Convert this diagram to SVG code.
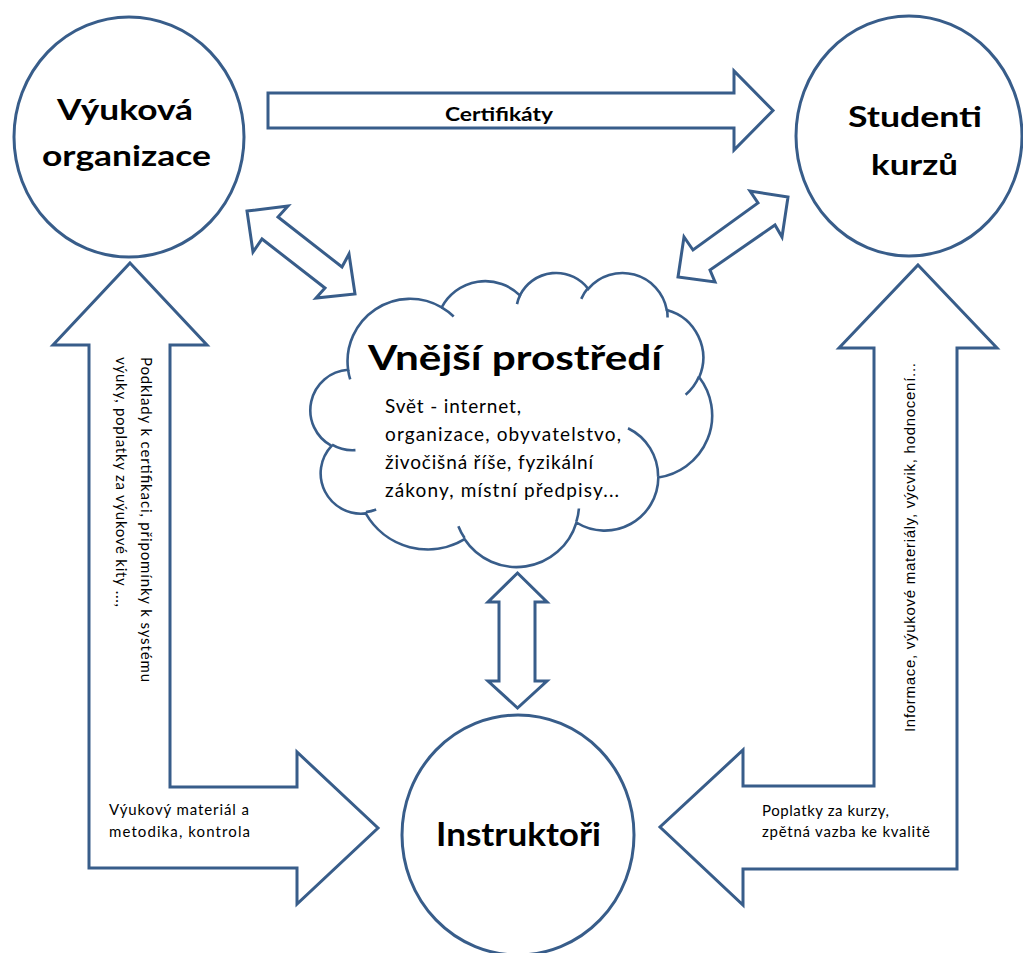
<svg xmlns="http://www.w3.org/2000/svg" width="1023" height="953" viewBox="0 0 1023 953">
  <style>
    .ln { fill: #ffffff; stroke: #385D8A; stroke-width: 3; stroke-linejoin: miter; }
    .cl { fill: #ffffff; stroke: #385D8A; stroke-width: 2.6; vector-effect: non-scaling-stroke; }
    .cli { fill: none; stroke: #385D8A; stroke-width: 2.6; vector-effect: non-scaling-stroke; }
    .title { font-family: Lato, "Open Sans", sans-serif; font-weight: bold; fill: #000000; text-anchor: middle; }
    .body { font-family: Lato, "Open Sans", sans-serif; fill: #000000; }
    .arial { font-family: "Liberation Sans", Arial, sans-serif; fill: #000000; }
  </style>
  <rect x="0" y="0" width="1023" height="953" fill="#ffffff"/>

  <g id="connectors">
    <!-- certificates: organisation -> students -->
    <polygon class="ln" points="268,93 734,93 734,71 773,110.5 734,150 734,128 268,128"/>
    <text class="title" x="499" y="121" font-size="19" textLength="108" lengthAdjust="spacingAndGlyphs">Certifikáty</text>

    <!-- organisation <-> environment -->
    <polygon class="ln" points="247,211 288,206 278,217 342,267 349,254 355,294 316,298 325,288 262,239 253,252"/>
    <!-- students <-> environment -->
    <polygon class="ln" points="788,197 782,237 775,225 710,270 715,282 678,277 684,237 693,250 758,203 750,191"/>
    <!-- environment <-> instructors -->
    <polygon class="ln" points="517.5,573 547,602 535,602 535,681 547,681 517.5,708 488,681 499,681 499,602 488,602"/>

    <!-- left bent arrow: up to organisation, right to instructors -->
    <polygon class="ln" points="130,263 207,345 170,345 170,787 297,787 297,752 378,828 297,904 297,868 89,868 89,345 53,345"/>
    <text class="body" font-size="15" transform="translate(141,357) rotate(90)" textLength="325">Podklady k certifikaci, připomínky k systému</text>
    <text class="body" font-size="15" transform="translate(116,357) rotate(90)" textLength="250">výuky, poplatky za výukové kity ...,</text>
    <text class="body" font-size="15" x="109" y="815" textLength="140">Výukový materiál a</text>
    <text class="body" font-size="15" x="109" y="837" textLength="141">metodika, kontrola</text>

    <!-- right bent arrow: up to students, left to instructors -->
    <polygon class="ln" points="918,265 997,348 957,348 957,869 743,869 743,905 660,827 743,750 743,786 874,786 874,348 839,348"/>
    <text class="arial" font-size="15" transform="translate(915,732) rotate(-90)" textLength="369">Informace, výukové materiály, výcvik, hodnocení...</text>
    <text class="body" font-size="15" x="762" y="816" textLength="127">Poplatky za kurzy,</text>
    <text class="body" font-size="15" x="762" y="837" textLength="168">zpětná vazba ke kvalitě</text>
  </g>

  <g id="node-vyukova-organizace">
    <ellipse class="ln" cx="129" cy="137" rx="115" ry="120"/>
    <text class="title" x="125" y="120" font-size="29" textLength="136" lengthAdjust="spacingAndGlyphs">Výuková</text>
    <text class="title" x="126.5" y="166" font-size="29" textLength="169" lengthAdjust="spacingAndGlyphs">organizace</text>
  </g>

  <g id="node-studenti-kurzu">
    <ellipse class="ln" cx="909" cy="136" rx="113" ry="120"/>
    <text class="title" x="915" y="127" font-size="29" textLength="134" lengthAdjust="spacingAndGlyphs">Studenti</text>
    <text class="title" x="914.5" y="175" font-size="29" textLength="87" lengthAdjust="spacingAndGlyphs">kurzů</text>
  </g>

  <g id="node-instruktori">
    <ellipse class="ln" cx="518" cy="835" rx="116" ry="120"/>
    <text class="title" x="518.5" y="846" font-size="32" textLength="165" lengthAdjust="spacingAndGlyphs">Instruktoři</text>
  </g>

  <g id="node-vnejsi-prostredi">
    <g transform="translate(312,272) scale(0.0092593,0.0068056)">
      <path class="cl" d="M3900 14370 A6753 9190 0 0 1 14004 5201 A5333 7267 0 0 1 22455 3430 A4365 5945 0 0 1 29833 2480 A4857 6595 0 0 1 38318 5574 A5333 7273 0 0 1 41819 15458 A6775 9220 0 0 1 37403 30199 A5785 7867 0 0 1 28555 36808 A6752 9215 0 0 1 16481 39264 A7720 10543 0 0 1 5803 35469 A4360 5918 0 0 1 2113 25545 A4345 5945 0 0 1 3900 14370 Z"/>
      <path class="cli" d="M4693 26177 A4345 5945 0 0 1 2159 25380 M6928 34899 A4360 5918 0 0 1 5819 35281 M16478 39090 A6752 9215 0 0 1 15808 37347 M28827 34751 A6752 9215 0 0 1 28561 36660 M34129 22954 A5785 7867 0 0 1 37380 30089 M41798 15354 A5333 7273 0 0 1 40350 18030 M38324 5426 A4857 6595 0 0 1 38401 6691 M29078 3952 A4857 6595 0 0 1 29820 2339 M22141 4720 A4365 5945 0 0 1 22500 3331 M14000 5192 A6753 9190 0 0 1 15302 6543 M4127 15789 A6753 9190 0 0 1 3900 14371"/>
    </g>
    <text class="title" x="515" y="370" font-size="35" textLength="294" lengthAdjust="spacingAndGlyphs">Vnější prostředí</text>
    <text class="body" font-size="19" x="385" y="413" textLength="136">Svět - internet,</text>
    <text class="body" font-size="19" x="385" y="441" textLength="236">organizace, obyvatelstvo,</text>
    <text class="body" font-size="19" x="385" y="469" textLength="208">živočišná říše, fyzikální</text>
    <text class="body" font-size="19" x="385" y="497" textLength="234">zákony, místní předpisy...</text>
  </g>
</svg>
